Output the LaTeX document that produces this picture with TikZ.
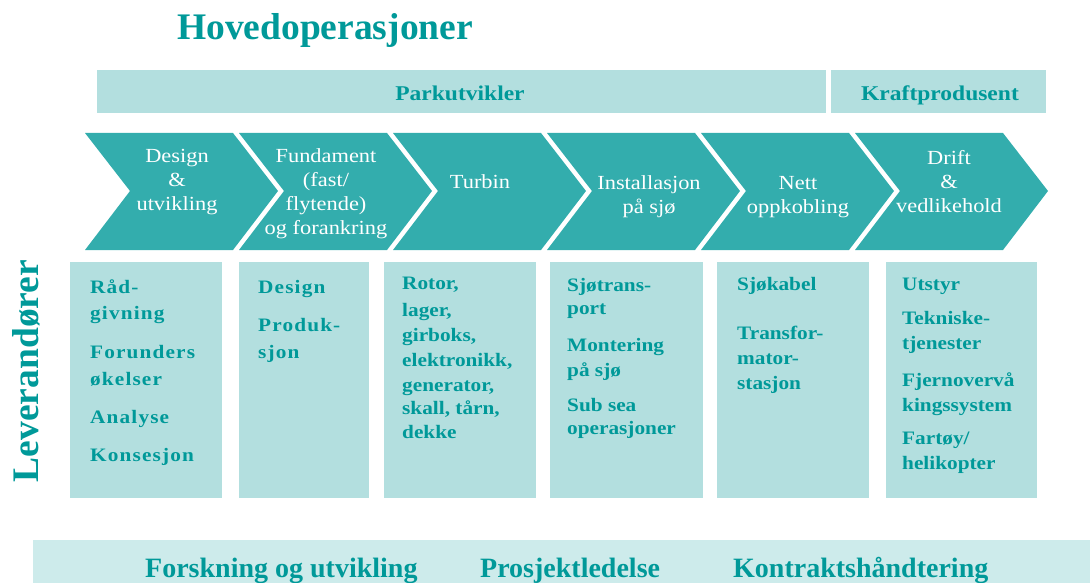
\documentclass[tikz,border=0pt]{standalone}
\usepackage{fontspec}
\setmainfont{Liberation Serif}
\newfontfamily\wrm[FakeStretch=1.12]{Liberation Serif}
\newfontfamily\wsp[FakeStretch=1.12,LetterSpace=6]{Liberation Serif}
\definecolor{tealtxt}{HTML}{009999}
\definecolor{chevcol}{HTML}{33ADAD}
\definecolor{boxcol}{HTML}{B3DFDF}
\definecolor{barcol}{HTML}{CDEBEB}
\tikzset{
  chevshape/.style={fill=chevcol},
  chevtxt/.style={text=white, align=center, inner sep=0pt, font=\wrm\fontsize{20}{24}\selectfont},
  boxfill/.style={fill=boxcol},
  btxt/.style={text=tealtxt, anchor=base west, inner sep=0pt, font=\wrm\bfseries\fontsize{19}{24}\selectfont},
  bstxt/.style={text=tealtxt, anchor=base west, inner sep=0pt, font=\wsp\bfseries\fontsize{19}{24}\selectfont},
  bartxt/.style={text=tealtxt, anchor=base, inner sep=0pt, font=\wrm\bfseries\fontsize{21}{24}\selectfont},
  bigtxt/.style={text=tealtxt, anchor=base, inner sep=0pt, font=\bfseries\fontsize{37.5}{40}\selectfont},
  foottxt/.style={text=tealtxt, anchor=base west, inner sep=0pt, font=\bfseries\fontsize{28}{32}\selectfont},
}
\begin{document}
\begin{tikzpicture}[x=1pt,y=-1pt]
\useasboundingbox (0,0) rectangle (1090,583);
% title
\node[bigtxt] (title) at (325,40) {Hovedoperasjoner};
% top bars
\fill[boxfill] (97,70) rectangle (826,113);
\fill[boxfill] (831,70) rectangle (1046,113);
\node[bartxt] (park) at (460,101) {Parkutvikler};
\node[bartxt] (kraft) at (940,101) {Kraftprodusent};
% chevrons
\foreach \L in {85,239,393,547,701,855}
  \fill[chevshape] (\L,133) -- ++(148,0) -- ++(45,58) -- ++(-45,59) -- ++(-148,0) -- ++(45,-59) -- cycle;
\node[chevtxt] (c1) at (177,182) {Design\\\&\\utvikling};
\node[chevtxt] (c2) at (326,194) {Fundament\\(fast/\\flytende)\\og forankring};
\node[chevtxt] (c3) at (480,182) {Turbin};
\node[chevtxt] (c4) at (649,197) {Installasjon\\på sjø};
\node[chevtxt] (c5) at (798,197) {Nett\\oppkobling};
\node[chevtxt] (c6) at (949,182) {Drift\\\&\\vedlikehold};
% boxes
\foreach \a/\b in {70/222,239/369,384/536,550/703,717/869,886/1037}
  \fill[boxfill] (\a,262) rectangle (\b,498);
\foreach \t/\y [count=\i] in {Råd-/293,givning/319,Forunders/358,økelser/385,Analyse/423,Konsesjon/461}
  \node[bstxt] (b1-\i) at (90,\y) {\t};
\foreach \t/\y [count=\i] in {Design/293,Produk-/331,sjon/358}
  \node[bstxt] (b2-\i) at (258,\y) {\t};
\foreach \t/\y [count=\i] in {{Rotor,}/289,{lager,}/316,{girboks,}/341,{elektronikk,}/366,{generator,}/391,{skall, tårn,}/414,dekke/438}
  \node[btxt] (b3-\i) at (402,\y) {\t};
\foreach \t/\y [count=\i] in {Sjøtrans-/291,port/314,Montering/351,på sjø/376,Sub sea/411,operasjoner/434}
  \node[btxt] (b4-\i) at (567,\y) {\t};
\foreach \t/\y [count=\i] in {Sjøkabel/290,Transfor-/339,mator-/364,stasjon/389}
  \node[btxt] (b5-\i) at (737,\y) {\t};
\foreach \t/\y [count=\i] in {Utstyr/290,Tekniske-/324,tjenester/349,Fjernovervå/386,kingssystem/411,{Fartøy/}/444,helikopter/469}
  \node[btxt] (b6-\i) at (902,\y) {\t};
% side label
\node[bigtxt, rotate=90] (lev) at (38,371) {Leverandører};
% bottom bar
\fill[fill=barcol] (33,540) rectangle (1090,583);
\node[foottxt] (f1) at (145,577) {Forskning og utvikling};
\node[foottxt] (f2) at (480,577) {Prosjektledelse};
\node[foottxt] (f3) at (733,577) {Kontraktshåndtering};
\end{tikzpicture}
\end{document}
